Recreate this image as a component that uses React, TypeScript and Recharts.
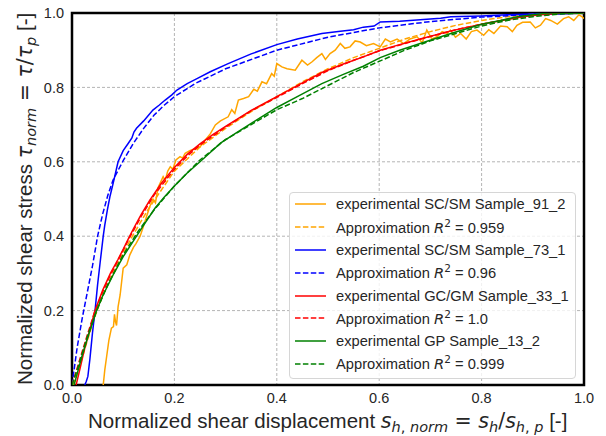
import React from 'react'
import { LineChart, Line, XAxis, YAxis, CartesianGrid, Legend, ReferenceArea } from 'recharts'

const sans = '"Liberation Sans", Arial, sans-serif'
const math = '"DejaVu Sans", sans-serif'
const ink = '#262626'

const xTicks = [0, 0.2, 0.4, 0.6, 0.8, 1.0]
const yTicks = [0, 0.2, 0.4, 0.6, 0.8, 1.0]

const sampleNames = ['SC/SM Sample_91_2', 'SC/SM Sample_73_1', 'GC/GM Sample_33_1', 'GP Sample_13_2']
const r2Values = ['0.959', '0.96', '1.0', '0.999']
const colors = ['#ffa500', '#0000ff', '#ff0000', '#008000']

// [x, y] pairs
const exp91 = [
  [0.061, 0], [0.064, 0.04], [0.068, 0.08], [0.072, 0.12], [0.077, 0.153], [0.081, 0.157], [0.083, 0.19],
  [0.085, 0.17], [0.087, 0.16], [0.09, 0.21], [0.094, 0.242], [0.1, 0.314], [0.107, 0.323], [0.113, 0.35],
  [0.12, 0.37], [0.125, 0.38], [0.133, 0.4], [0.138, 0.42], [0.145, 0.45], [0.152, 0.48], [0.158, 0.5],
  [0.163, 0.49], [0.168, 0.53], [0.172, 0.542], [0.178, 0.56], [0.182, 0.55], [0.187, 0.575], [0.192, 0.587],
  [0.197, 0.58], [0.203, 0.605], [0.211, 0.614], [0.216, 0.61], [0.221, 0.623], [0.23, 0.63], [0.24, 0.635],
  [0.25, 0.64], [0.26, 0.658], [0.27, 0.675], [0.28, 0.699], [0.29, 0.71], [0.305, 0.721], [0.312, 0.74],
  [0.318, 0.73], [0.325, 0.766], [0.335, 0.77], [0.345, 0.775], [0.355, 0.795], [0.362, 0.79], [0.371, 0.815],
  [0.38, 0.81], [0.39, 0.837], [0.395, 0.83], [0.4, 0.864], [0.41, 0.855], [0.42, 0.85], [0.436, 0.846],
  [0.449, 0.873], [0.46, 0.86], [0.469, 0.869], [0.478, 0.88], [0.488, 0.891], [0.495, 0.875], [0.504, 0.891],
  [0.514, 0.9], [0.524, 0.918], [0.533, 0.905], [0.543, 0.909], [0.553, 0.925], [0.563, 0.922], [0.575, 0.912],
  [0.589, 0.918], [0.602, 0.909], [0.612, 0.93], [0.622, 0.922], [0.635, 0.93], [0.648, 0.918], [0.66, 0.93],
  [0.674, 0.936], [0.684, 0.92], [0.693, 0.954], [0.703, 0.93], [0.713, 0.936], [0.723, 0.95], [0.733, 0.945],
  [0.739, 0.954], [0.749, 0.935], [0.759, 0.945], [0.77, 0.93], [0.78, 0.95], [0.791, 0.954], [0.804, 0.94],
  [0.814, 0.955], [0.824, 0.945], [0.837, 0.965], [0.85, 0.963], [0.86, 0.95], [0.869, 0.967], [0.88, 0.975],
  [0.895, 0.976], [0.905, 0.96], [0.915, 0.967], [0.925, 0.985], [0.935, 0.98], [0.948, 0.97], [0.96, 0.985],
  [0.97, 0.99], [0.98, 0.98], [0.99, 0.995], [0.996, 0.99], [1.0, 0.985],
]
const fit91 = [
  [0.003, 0], [0.015, 0.05], [0.03, 0.12], [0.045, 0.185], [0.06, 0.24], [0.08, 0.3], [0.1, 0.355], [0.12, 0.405],
  [0.15, 0.475], [0.2, 0.575], [0.25, 0.64], [0.3, 0.69], [0.35, 0.735], [0.4, 0.775], [0.45, 0.815], [0.5, 0.85],
  [0.55, 0.88], [0.6, 0.905], [0.65, 0.93], [0.7, 0.95], [0.75, 0.967], [0.8, 0.98], [0.85, 0.99], [0.9, 0.997],
  [0.95, 1.0], [1.0, 1.0],
]
const exp73 = [
  [0.025, 0], [0.028, 0.01], [0.031, 0.023], [0.035, 0.07], [0.04, 0.14], [0.045, 0.2], [0.05, 0.27],
  [0.055, 0.33], [0.061, 0.4], [0.064, 0.43], [0.069, 0.47], [0.074, 0.506], [0.08, 0.54], [0.085, 0.57],
  [0.09, 0.6], [0.1, 0.63], [0.11, 0.65], [0.117, 0.664], [0.121, 0.68], [0.126, 0.69], [0.14, 0.71],
  [0.158, 0.739], [0.17, 0.752], [0.182, 0.766], [0.195, 0.78], [0.205, 0.793], [0.225, 0.81], [0.246, 0.825],
  [0.27, 0.842], [0.305, 0.864], [0.35, 0.89], [0.4, 0.915], [0.44, 0.93], [0.488, 0.945], [0.52, 0.95],
  [0.55, 0.955], [0.569, 0.962], [0.59, 0.965], [0.602, 0.976], [0.64, 0.978], [0.68, 0.982], [0.72, 0.986],
  [0.74, 0.99], [0.8, 0.992], [0.85, 0.995], [0.9, 0.997], [0.95, 0.998], [1.0, 1.0],
]
const fit73 = [
  [0, 0], [0.005, 0.05], [0.01, 0.1], [0.02, 0.18], [0.03, 0.25], [0.04, 0.32], [0.05, 0.4], [0.06, 0.46],
  [0.07, 0.51], [0.08, 0.55], [0.09, 0.577], [0.1, 0.603], [0.12, 0.65], [0.14, 0.69], [0.16, 0.725],
  [0.18, 0.752], [0.2, 0.775], [0.24, 0.81], [0.3, 0.85], [0.4, 0.9], [0.5, 0.935], [0.6, 0.96], [0.7, 0.977],
  [0.8, 0.989], [0.9, 0.996], [1.0, 1.0],
]
const exp33 = [
  [0.008, 0], [0.015, 0.04], [0.025, 0.1], [0.035, 0.15], [0.045, 0.2], [0.06, 0.255], [0.075, 0.3],
  [0.09, 0.338], [0.1, 0.365], [0.11, 0.393], [0.12, 0.42], [0.135, 0.458], [0.152, 0.497], [0.175, 0.543],
  [0.2, 0.585], [0.225, 0.62], [0.25, 0.648], [0.275, 0.673], [0.3, 0.695], [0.35, 0.738], [0.4, 0.775],
  [0.45, 0.812], [0.488, 0.84], [0.53, 0.863], [0.569, 0.882], [0.602, 0.9], [0.64, 0.915], [0.68, 0.93],
  [0.74, 0.952], [0.8, 0.97], [0.84, 0.98], [0.88, 0.99], [0.92, 0.996], [0.96, 1.0], [1.0, 1.0],
]
const fit33 = [
  [0, 0], [0.01, 0.045], [0.02, 0.09], [0.03, 0.135], [0.045, 0.2], [0.06, 0.25], [0.075, 0.295], [0.09, 0.335],
  [0.11, 0.39], [0.135, 0.453], [0.16, 0.51], [0.2, 0.58], [0.225, 0.615], [0.25, 0.645], [0.3, 0.693],
  [0.35, 0.737], [0.4, 0.773], [0.45, 0.81], [0.5, 0.845], [0.55, 0.873], [0.6, 0.898], [0.65, 0.918],
  [0.7, 0.937], [0.75, 0.955], [0.8, 0.97], [0.85, 0.983], [0.9, 0.993], [0.95, 0.999], [1.0, 1.0],
]
const exp13 = [
  [0.004, 0], [0.01, 0.03], [0.02, 0.08], [0.03, 0.125], [0.048, 0.2], [0.06, 0.24], [0.08, 0.295],
  [0.1, 0.345], [0.126, 0.4], [0.14, 0.43], [0.162, 0.475], [0.18, 0.505], [0.2, 0.535], [0.225, 0.57],
  [0.25, 0.6], [0.27, 0.625], [0.29, 0.65], [0.32, 0.677], [0.35, 0.703], [0.4, 0.746], [0.44, 0.775],
  [0.488, 0.81], [0.53, 0.835], [0.569, 0.857], [0.602, 0.88], [0.64, 0.9], [0.68, 0.918], [0.74, 0.945],
  [0.8, 0.97], [0.837, 0.98], [0.87, 0.99], [0.9, 0.995], [0.93, 1.0], [1.0, 1.0],
]
const fit13 = [
  [0, 0], [0.01, 0.04], [0.02, 0.085], [0.03, 0.13], [0.048, 0.2], [0.07, 0.27], [0.1, 0.35], [0.13, 0.415],
  [0.16, 0.47], [0.2, 0.535], [0.25, 0.605], [0.3, 0.66], [0.35, 0.7], [0.4, 0.74], [0.45, 0.77], [0.5, 0.805],
  [0.55, 0.84], [0.6, 0.87], [0.65, 0.9], [0.7, 0.925], [0.75, 0.945], [0.8, 0.965], [0.85, 0.98], [0.9, 0.99],
  [0.95, 0.997], [1.0, 1.0],
]

const toPoints = (pairs: number[][]) => pairs.map(([x, y]) => ({ x, y }))

const expData = [exp91, exp73, exp33, exp13]
const fitData = [fit91, fit73, fit33, fit13]

const series = sampleNames.flatMap((name, i) => [
  { key: `exp${i}`, kind: 'exp', name, color: colors[i], dashed: false, data: toPoints(expData[i]) },
  { key: `fit${i}`, kind: 'fit', r2: r2Values[i], color: colors[i], dashed: true, data: toPoints(fitData[i]) },
])

const dash = '5.5 2.4'

const LegendBox = () => (
  <div
    style={{
      width: 287,
      height: 187,
      boxSizing: 'border-box',
      border: '1px solid #d6d6d6',
      borderRadius: 4,
      background: 'rgba(255,255,255,0.8)',
      fontFamily: sans,
      fontSize: 14.7,
      color: ink,
    }}
  >
    {series.map((s) => (
      <div key={s.key} style={{ height: 22.8, display: 'flex', alignItems: 'center', whiteSpace: 'nowrap' }}>
        <svg width={31} height={4} style={{ marginLeft: 5, marginRight: 10, flex: 'none' }}>
          <line x1={0} y1={2} x2={31} y2={2} stroke={s.color} strokeWidth={1.5} strokeDasharray={s.dashed ? dash : undefined} />
        </svg>
        {s.kind === 'exp' ? (
          <span>experimental {s.name}</span>
        ) : (
          <span>
            Approximation <span style={{ fontFamily: math, fontStyle: 'italic' }}>R</span>
            <span style={{ fontFamily: math, fontSize: 10.5, position: 'relative', top: -6 }}>2</span> = {s.r2}
          </span>
        )}
      </div>
    ))}
  </div>
)

const XLabel = () => (
  <text x={88} y={428} fontFamily={sans} fontSize={20.5} fill={ink}>
    <tspan>Normalized shear displacement </tspan>
    <tspan fontFamily={math} fontStyle="italic">s</tspan>
    <tspan fontFamily={math} fontStyle="italic" fontSize={14.5} dy={4}>h</tspan>
    <tspan fontFamily={math} fontSize={14.5}>, </tspan>
    <tspan fontFamily={math} fontStyle="italic" fontSize={14.5}>norm</tspan>
    <tspan fontFamily={math} dy={-4}> = </tspan>
    <tspan fontFamily={math} fontStyle="italic">s</tspan>
    <tspan fontFamily={math} fontStyle="italic" fontSize={14.5} dy={4}>h</tspan>
    <tspan fontFamily={math} dy={-4}>/</tspan>
    <tspan fontFamily={math} fontStyle="italic">s</tspan>
    <tspan fontFamily={math} fontStyle="italic" fontSize={14.5} dy={4}>h</tspan>
    <tspan fontFamily={math} fontSize={14.5}>, </tspan>
    <tspan fontFamily={math} fontStyle="italic" fontSize={14.5}>p</tspan>
    <tspan dy={-4}> [-]</tspan>
  </text>
)

const YLabel = () => (
  <text transform="rotate(-90)" x={-385} y={32} fontFamily={sans} fontSize={20.5} fill={ink}>
    <tspan>Normalized shear stress </tspan>
    <tspan fontFamily={math} fontStyle="italic">τ</tspan>
    <tspan fontFamily={math} fontStyle="italic" fontSize={14.5} dy={4}>norm</tspan>
    <tspan fontFamily={math} dy={-4}> = </tspan>
    <tspan fontFamily={math} fontStyle="italic">τ</tspan>
    <tspan fontFamily={math}>/</tspan>
    <tspan fontFamily={math} fontStyle="italic">τ</tspan>
    <tspan fontFamily={math} fontStyle="italic" fontSize={14.5} dy={4}>p</tspan>
    <tspan dy={-4}> [-]</tspan>
  </text>
)

const tickStyle = { fill: ink, fontSize: 14.5, fontFamily: sans }

export default function App() {
  return (
    <div style={{ position: 'absolute', left: 0, top: 0, width: 606, height: 436, background: '#fff' }}>
      <LineChart width={606} height={436} margin={{ top: 13, right: 22, bottom: 21, left: 10 }}>
        <CartesianGrid stroke="#b4b4b4" strokeDasharray="3 2" strokeWidth={1} />
        <XAxis
          dataKey="x"
          type="number"
          domain={[0, 1]}
          ticks={xTicks}
          tickFormatter={(v: number) => v.toFixed(1)}
          tick={tickStyle}
          tickLine={false}
          axisLine={false}
          height={30}
          allowDataOverflow
          label={<XLabel />}
        />
        <YAxis
          type="number"
          domain={[0, 1]}
          ticks={yTicks}
          tickFormatter={(v: number) => v.toFixed(1)}
          tick={tickStyle}
          tickLine={false}
          axisLine={false}
          width={62}
          allowDataOverflow
          label={<YLabel />}
        />
        {series.map((s) => (
          <Line
            key={s.key}
            data={s.data}
            dataKey="y"
            type="linear"
            stroke={s.color}
            strokeWidth={1.5}
            strokeDasharray={s.dashed ? dash : undefined}
            dot={false}
            activeDot={false}
            isAnimationActive={false}
          />
        ))}
        <ReferenceArea x1={0} x2={1} y1={0} y2={1} fill="none" stroke="#000" strokeWidth={2.5} ifOverflow="visible" />
        <Legend
          layout="vertical"
          align="center"
          verticalAlign="middle"
          wrapperStyle={{ left: 289, top: 192, width: 287, height: 187 }}
          content={<LegendBox />}
        />
      </LineChart>
    </div>
  )
}
